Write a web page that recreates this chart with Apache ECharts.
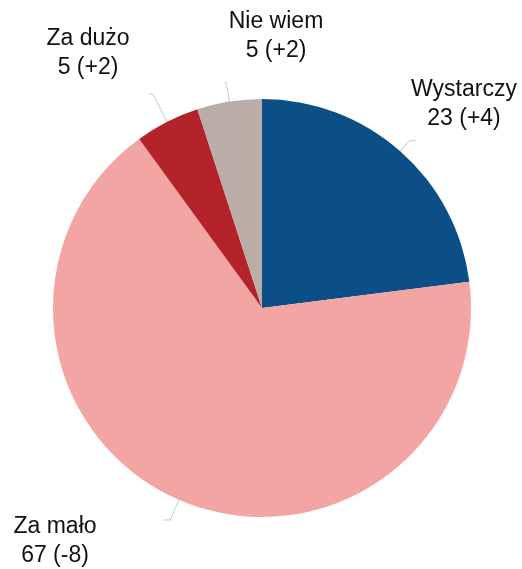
<!DOCTYPE html>
<html>
<head>
<meta charset="utf-8">
<script src="https://cdn.jsdelivr.net/npm/echarts@6/dist/echarts.min.js"></script>
<style>
html,body{margin:0;padding:0;background:#fff;}
#chart{width:522px;height:569px;}
</style>
</head>
<body>
<div id="chart"></div>
<script>
const categories = ['Wystarczy', 'Za mało', 'Za dużo', 'Nie wiem'];
const values = [23, 67, 5, 5];
const changes = ['+4', '-8', '+2', '+2'];

const colors = ['#0b4f86', '#f3a5a3', '#b4232a', '#baada7'];
// label block centres (layout only)
const labelCenters = [[464, 104], [55, 541], [88, 53], [276, 36]];
const lineLengths = [[14, 6], [22, 8], [31, 4], [19, 2]];

const chart = echarts.init(document.getElementById('chart'), null, {renderer: 'canvas'});
const data = categories.map((c, i) => ({
  name: c,
  value: values[i],
  change: changes[i],
  itemStyle: {color: colors[i]},
  labelLine: {length: lineLengths[i][0], length2: lineLengths[i][1]}
}));

chart.setOption({
  animation: false,
  series: [{
    type: 'pie',
    center: [262, 308],
    radius: 209,
    startAngle: 90,
    clockwise: true,
    avoidLabelOverlap: false,
    emphasis: {disabled: true},
    itemStyle: {borderWidth: 0},
    data: data,
    label: {
      show: true,
      position: 'outside',
      width: 140,
      overflow: 'none',
      fontFamily: '"Liberation Sans", Arial, sans-serif',
      fontSize: 23,
      lineHeight: 29,
      color: '#111',
      formatter: p => p.name + '\n' + p.value + ' (' + p.data.change + ')'
    },
    labelLine: {
      show: true,
      smooth: false,
      lineStyle: {color: '#c9c9c9', width: 1}
    },
    labelLayout: function (params) {
      const c = labelCenters[params.dataIndex];
      const out = {x: c[0], y: c[1], align: 'center', verticalAlign: 'middle'};
      if (params.labelLinePoints) out.labelLinePoints = params.labelLinePoints;
      return out;
    }
  }]
});
</script>
</body>
</html>
